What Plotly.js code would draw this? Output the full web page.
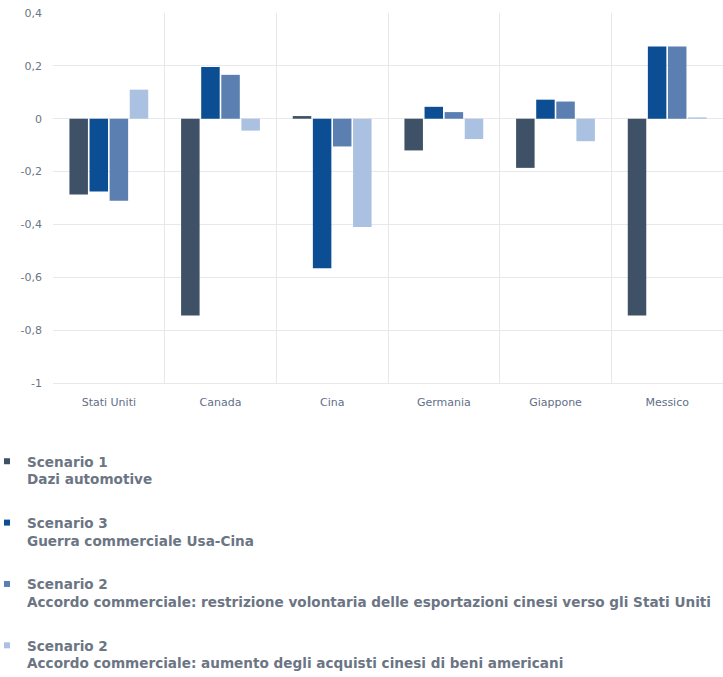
<!DOCTYPE html>
<html>
<head>
<meta charset="utf-8">
<script src="https://cdn.plot.ly/plotly-3.0.1.min.js"></script>
<style>html,body{margin:0;padding:0;background:#fff;}#chart{width:723px;height:677px;}</style>
</head>
<body>
<div id="chart"></div>
<script>
const categories = ["Stati Uniti", "Canada", "Cina", "Germania", "Giappone", "Messico"];
const scenario1 = [-0.287, -0.745, 0.01, -0.12, -0.186, -0.745];
const scenario3 = [-0.275, 0.196, -0.566, 0.045, 0.072, 0.273];
const scenario2a = [-0.31, 0.166, -0.105, 0.025, 0.065, 0.273];
const scenario2b = [0.11, -0.045, -0.41, -0.077, -0.085, 0.005];
const seriesNames = [
  "Scenario 1<br>Dazi automotive",
  "Scenario 3<br>Guerra commerciale Usa-Cina",
  "Scenario 2<br>Accordo commerciale: restrizione volontaria delle esportazioni cinesi verso gli Stati Uniti",
  "Scenario 2<br>Accordo commerciale: aumento degli acquisti cinesi di beni americani"
];
const yTickVals = [0.4, 0.2, 0, -0.2, -0.4, -0.6, -0.8, -1];
const yTickText = ["0,4", "0,2", "0", "-0,2", "-0,4", "-0,6", "-0,8", "-1"];
const colors = ["#3e5166", "#0b4e93", "#5a7fb0", "#aac1e2"];
const values = [scenario1, scenario3, scenario2a, scenario2b];

const traces = [];
values.forEach((v, i) => {
  traces.push({
    type: "bar",
    x: categories,
    y: v,
    name: seriesNames[i],
    legendgroup: "g" + i,
    showlegend: false,
    marker: {color: colors[i]},
    hoverinfo: "x+y"
  });
});
values.forEach((v, i) => {
  traces.push({
    type: "scatter",
    mode: "markers",
    x: [null],
    y: [null],
    name: seriesNames[i],
    legendgroup: "g" + i,
    showlegend: true,
    marker: {color: colors[i], symbol: "square", size: 6},
    hoverinfo: "skip"
  });
});

const layout = {
  width: 723,
  height: 677,
  margin: {l: 53, r: 0, t: 13, b: 294, autoexpand: false},
  paper_bgcolor: "#ffffff",
  plot_bgcolor: "#ffffff",
  barmode: "group",
  bargap: 0.28,
  bargroupgap: 0.08,
  font: {family: "DejaVu Sans, Arial, sans-serif", color: "#6b7584"},
  xaxis: {
    type: "category",
    tickson: "boundaries",
    showgrid: true,
    gridcolor: "#e6e8eb",
    ticks: "",
    showline: true,
    linecolor: "#e6e8eb",
    tickfont: {size: 11, color: "#5f6f88"},
    ticklabelstandoff: 9,
    fixedrange: true
  },
  yaxis: {
    range: [-1, 0.4],
    tickmode: "array",
    tickvals: yTickVals,
    ticktext: yTickText,
    showgrid: true,
    gridcolor: "#e6e8eb",
    zeroline: true,
    zerolinecolor: "#e6e8eb",
    zerolinewidth: 1,
    tickfont: {size: 11, color: "#6b7584"},
    ticklabelstandoff: 10,
    fixedrange: true
  },
  showlegend: true,
  legend: {
    orientation: "v",
    x: -0.0985,
    xanchor: "left",
    y: -0.17,
    yanchor: "top",
    valign: "top",
    tracegroupgap: 23,
    itemwidth: 30,
    font: {size: 13.6, color: "#6b7584", weight: 600},
    bgcolor: "rgba(0,0,0,0)"
  }
};

Plotly.newPlot("chart", traces, layout, {displayModeBar: false, staticPlot: true});
</script>
</body>
</html>
